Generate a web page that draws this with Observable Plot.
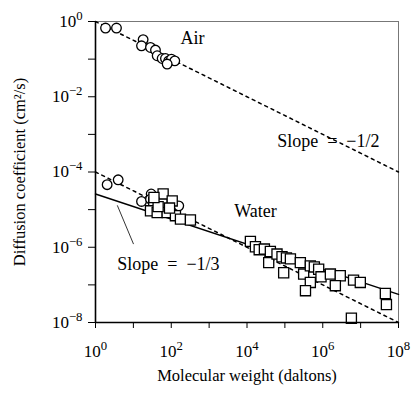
<!DOCTYPE html>
<html><head><meta charset="utf-8">
<script src="https://cdn.jsdelivr.net/npm/d3@7"></script>
<script src="https://cdn.jsdelivr.net/npm/@observablehq/plot@0.6"></script>
<style>body{margin:0;background:#fff}</style>
</head><body><div id="chart"></div>
<script>
// Air (circles)
const airX = [1.84, 3.58, 18.1, 16.4, 28.3, 38.3, 42.5, 57.5, 70.3, 85.9, 101, 124, 78];
const airY = [0.67, 0.67, 0.33, 0.226, 0.204, 0.174, 0.123, 0.104, 0.104, 0.090, 0.100, 0.090, 0.074];
// Water small molecules (circles)
const waterCircX = [2.03, 3.97, 29.5, 16.4, 28.3, 158];
const waterCircY = [4.6e-5, 6.2e-5, 2.6e-5, 1.65e-5, 1.9e-5, 1.26e-5];
// Water (squares)
const waterSqX = [61, 34.5, 57.5, 106, 28.3, 42.5, 78, 129, 175, 321, 45, 90, 35,
  1.23e4, 1.67e4, 2.1e4, 2.88e4, 4.14e4, 3.74e4, 6.2e4, 8.4e4, 9.3e4, 1.1e5, 1.4e5, 2.56e5, 3.13e5,
  4.7e5, 4.7e5, 3.5e5, 6.0e5, 7.8e5, 9e5, 1.59e6, 2.9e6, 2.15e6, 6.5e6, 9.8e6, 4.5e7, 4.8e7, 5.7e6];
const waterSqY = [2.6e-5, 1.55e-5, 1.4e-5, 1.7e-5, 9.3e-6, 8.4e-6, 8.4e-6, 6.9e-6, 5.6e-6, 5.3e-6, 1.2e-5, 1.1e-5, 2.1e-5,
  1.43e-6, 1.03e-6, 8.6e-7, 8.95e-7, 7.7e-7, 3.9e-7, 6.6e-7, 5.6e-7, 2.1e-7, 5.2e-7, 4.9e-7, 3.9e-7, 1.94e-7,
  3.2e-7, 1.16e-7, 7e-8, 3.0e-7, 2.6e-7, 1.64e-7, 1.94e-7, 1.75e-7, 9.5e-8, 1.34e-7, 1.16e-7, 5.9e-8, 3e-8, 1.3e-8];
// Fitted lines (endpoints)
const airLineX = [1, 1e8], airLineY = [1, 1e-4];
const waterDashX = [1, 1e8], waterDashY = [1e-4, 1e-8];
const waterSolidX = [1, 1e8], waterSolidY = [2.6e-5, 5.6e-8];
// Ticks
const xTickExps = [0,1,2,3,4,5,6,7,8];
const yTickExps = [-8,-7,-6,-5,-4,-3,-2,-1,0];
// Annotations
const labels = [
  {x: 363, y: 0.37, text: "Air"},
  {x: 1.4e6, y: 6.7e-4, text: "Slope\u2002=\u2002\u22121/2"},
  {x: 1.67e4, y: 8.8e-6, text: "Water"},
  {x: 84, y: 3.6e-7, text: "Slope\u2002=\u2002\u22121/3"}
];
const leaderX = [3.8, 10], leaderY = [1.27e-5, 1.24e-6];

const FONT = "'Liberation Serif', 'Times New Roman', serif";
const toPts = (xs, ys) => xs.map((x, i) => ({x, y: ys[i]}));
const fmt = d => { const e = Math.round(Math.log10(d)); return e % 2 === 0 ? "10^" + (e < 0 ? "\u2212" + (-e) : e) : ""; };

const chart = Plot.plot({
  width: 414, height: 395,
  marginLeft: 95, marginRight: 16, marginTop: 21, marginBottom: 73,
  style: {fontFamily: FONT, fontSize: "16px", background: "white", color: "black"},
  x: {type: "log", domain: [1, 1e8]},
  y: {type: "log", domain: [1e-8, 1]},
  marks: [
    Plot.frame({stroke: "#777", strokeWidth: 1}),
    Plot.line(toPts(airLineX, airLineY), {x: "x", y: "y", stroke: "black", strokeWidth: 1.5, strokeDasharray: "3,4"}),
    Plot.line(toPts(waterDashX, waterDashY), {x: "x", y: "y", stroke: "black", strokeWidth: 1.5, strokeDasharray: "3,4"}),
    Plot.line(toPts(waterSolidX, waterSolidY), {x: "x", y: "y", stroke: "black", strokeWidth: 1.5}),
    Plot.line(toPts(leaderX, leaderY), {x: "x", y: "y", stroke: "black", strokeWidth: 0.8}),
    Plot.dot(toPts(airX, airY), {x: "x", y: "y", r: 4.8, fill: "white", stroke: "black", strokeWidth: 1.3}),
    Plot.dot(toPts(waterCircX, waterCircY), {x: "x", y: "y", r: 4.8, fill: "white", stroke: "black", strokeWidth: 1.3}),
    Plot.dot(toPts(waterSqX, waterSqY), {x: "x", y: "y", symbol: "square", r: 5.7, fill: "white", stroke: "black", strokeWidth: 1.3}),
    Plot.text(labels, {x: "x", y: "y", text: "text", fontSize: 18, fontFamily: FONT, fill: "black"}),
    Plot.ruleX([1], {stroke: "black", strokeWidth: 1.6}),
    Plot.ruleY([1e-8], {stroke: "black", strokeWidth: 1.6}),
    Plot.axisX({ticks: xTickExps.map(e => 10 ** e), tickFormat: fmt, tickSize: 6, tickPadding: 16,
      label: "Molecular weight (daltons)", labelAnchor: "center", labelArrow: "none", labelOffset: 58}),
    Plot.axisY({ticks: yTickExps.map(e => 10 ** e), tickFormat: fmt, tickSize: 7, tickPadding: 6,
      label: "Diffusion coefficient (cm\u00b2/s)", labelAnchor: "center", labelArrow: "none", labelOffset: 82})
  ]
});

// Render tick labels as 10 with superscript exponent
d3.select(chart).selectAll("g[aria-label$='tick label'] text").each(function() {
  const t = this.textContent;
  if (!t.includes("^")) return;
  const [base, exp] = t.split("^");
  const sel = d3.select(this);
  sel.attr("font-size", 17).attr("font-family", FONT);
  sel.text(base);
  sel.append("tspan").attr("dy", "-0.55em").attr("font-size", "0.75em").text(exp);
});
d3.select(chart).selectAll("g[aria-label$='axis label'] text").attr("font-size", 16.5).attr("font-family", FONT);
document.getElementById("chart").appendChild(chart);
</script>
</body></html>
